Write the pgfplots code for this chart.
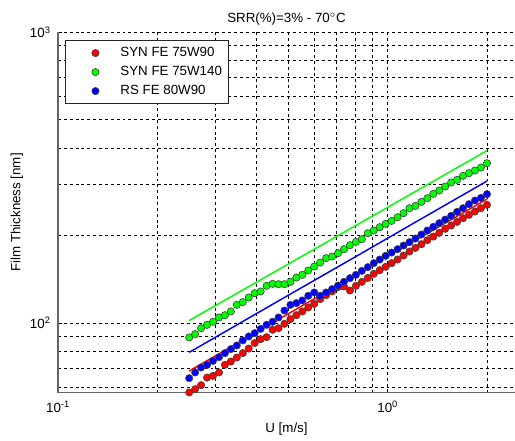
\documentclass[border=0pt]{standalone}
\usepackage{pgfplots}
\usepackage{pgfplotstable}
\pgfplotsset{compat=1.18}
\usepackage{fontspec}
\setmainfont{Liberation Sans}

\pgfplotstableread{
U red green blue
0.2500 57.8 89.3 64.7
0.2606 59.3 91.7 67.7
0.2717 61.2 96.1 70.4
0.2832 65.0 98.7 71.9
0.2952 65.9 101.1 74.2
0.3078 67.7 104.6 76.4
0.3208 71.9 106.5 78.9
0.3344 73.8 109.7 81.4
0.3486 76.2 115.6 83.8
0.3634 78.9 118.1 87.2
0.3789 81.8 122.5 90.0
0.3950 85.4 126.8 92.4
0.4117 88.1 128.5 95.6
0.4292 89.5 134.4 98.7
0.4474 94.9 136.5 101.1
0.4664 96.1 136.1 104.6
0.4862 99.5 136.1 110.5
0.5069 103.2 138.7 115.6
0.5284 106.5 143.5 117.2
0.5508 109.7 146.6 119.7
0.5742 113.2 151.7 124.2
0.5986 116.5 156.6 127.5
0.6240 120.9 161.6 124.2
0.6504 124.8 167.3 127.5
0.6781 128.5 169.5 130.9
0.7068 133.0 174.0 134.7
0.7368 133.7 179.6 138.7
0.7681 129.5 185.4 142.8
0.8007 134.4 190.3 146.6
0.8347 138.7 194.4 151.3
0.8702 143.1 203.8 155.8
0.9071 147.8 208.2 160.8
0.9456 152.1 213.7 165.5
0.9857 156.2 219.5 170.4
1.0276 160.8 224.7 174.9
1.0712 165.5 231.3 179.6
1.1167 170.8 238.8 184.9
1.1641 176.3 248.4 189.9
1.2135 181.5 253.1 195.4
1.2650 186.8 261.2 201.7
1.3187 192.9 268.9 208.2
1.3747 198.5 278.3 214.3
1.4330 204.4 285.7 220.6
1.4939 211.0 294.9 227.1
1.5573 216.6 304.4 233.8
1.6234 223.0 310.9 241.3
1.6923 229.5 320.9 248.4
1.7642 235.7 327.8 256.4
1.8390 241.9 334.7 264.0
1.9171 248.4 342.7 269.6
2.0000 255.1 354.6 277.6
}\dots

\pgfplotstableread{
U red green blue
0.25 68.5 102.1 79.4
0.30 77.2 114.9 89.4
0.40 93.2 138.3 107.9
0.50 107.8 159.8 124.8
0.60 121.5 179.8 140.5
0.80 146.6 216.6 169.4
1.00 169.7 250.2 196.0
1.20 191.2 281.5 220.8
1.50 221.2 325.3 255.3
2.00 267.0 391.7 308.0
}\lines

\begin{document}
\fontsize{10}{12}\selectfont
\begin{tikzpicture}
\begin{axis}[
  at={(0,0)}, anchor=south west,
  scale only axis, width=342.75pt, height=270.3pt,
  xmode=log, ymode=log,
  xmin=0.1, xmax=2.432, ymin=57.7, ymax=1000,
  axis x line=bottom, axis y line=left,
  axis line style={-, black!60, line width=0.9pt},
  xtick={0.1,1}, xticklabels={10\textsuperscript{-1},10\textsuperscript{0}},
  ytick={100,1000}, yticklabels={10\textsuperscript{2},10\textsuperscript{3}},
  xticklabel style={yshift=-3pt},
  yticklabel style={xshift=-2pt},
  minor xtick={0.2,0.3,0.4,0.5,0.6,0.7,0.8,0.9,2},
  minor ytick={60,70,80,90,200,300,400,500,600,700,800,900},
  grid=both,
  major grid style={black, line width=0.5pt, dash pattern=on 2.2pt off 2.2pt},
  minor grid style={black, line width=0.5pt, dash pattern=on 2.2pt off 2.2pt},
  tick align=inside,
  major tick length=3pt, minor tick length=1.8pt,
  tick style={black, line width=0.5pt},
  every axis title/.style={at={(axis description cs:0.5,1.038)}, anchor=center},
  title={SRR(\%)=3\% - 70\textsuperscript{$\circ$}C},
  every axis x label/.style={at={(axis description cs:0.5,-0.1)}, anchor=center},
  every axis y label/.style={at={(axis description cs:-0.0897,0.5)}, rotate=90, anchor=center},
  xlabel={U [m/s]},
  ylabel={Film Thickness [nm]},
  legend style={at={(axis description cs:0.0153,0.978)}, anchor=north west,
    draw=black!85, line width=0.7pt, fill=white,
    inner xsep=4.5pt, inner ysep=2.2pt, row sep=0pt,
    nodes={inner sep=0pt}},
  legend cell align=left,
  legend image code/.code={\draw[#1, line width=0.45pt] plot coordinates {(18pt,0pt)};
    \path[draw=none, fill=none] (0pt,-7.125pt) rectangle (36.75pt,7.125pt);},
  mark size=2.75pt,
]
\addplot[only marks, mark=*, mark options={fill=red, draw=black!75, line width=0.45pt}] table[x=U, y=red] {\dots};
\addlegendentry{SYN FE 75W90}
\addplot[only marks, mark=*, mark options={fill=green, draw=black!75, line width=0.45pt}] table[x=U, y=green] {\dots};
\addlegendentry{SYN FE 75W140}
\addplot[only marks, mark=*, mark options={fill=blue, draw=black!75, line width=0.45pt}] table[x=U, y=blue] {\dots};
\addlegendentry{RS FE 80W90}
\addplot[green, line width=1.1pt, forget plot] table[x=U, y=green] {\lines};
\addplot[blue, line width=1.1pt, forget plot] table[x=U, y=blue] {\lines};
\addplot[red, line width=1.1pt, forget plot] table[x=U, y=red] {\lines};
\end{axis}
\pgfresetboundingbox
\useasboundingbox (-43.5pt,-36.2pt) rectangle (342.75pt,294.5pt);
\end{tikzpicture}
\end{document}
